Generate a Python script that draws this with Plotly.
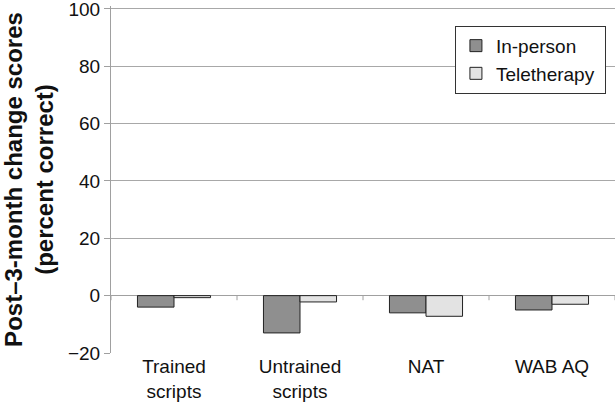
import plotly.graph_objects as go

categories = ["Trained<br>scripts", "Untrained<br>scripts", "NAT", "WAB AQ"]
in_person = [-4, -13, -6, -5]
teletherapy = [-0.7, -2.2, -7.2, -3]
y_ticks = [-20, 0, 20, 40, 60, 80, 100]

font = "Liberation Sans, Arial, sans-serif"
nb = "\u00a0"

fig = go.Figure()
fig.add_trace(go.Bar(x=categories, y=in_person, name="In-person" + nb,
                     marker=dict(color="#8f8f8f", line=dict(color="#222222", width=1))))
fig.add_trace(go.Bar(x=categories, y=teletherapy, name="Teletherapy" + nb,
                     marker=dict(color="#e3e3e3", line=dict(color="#222222", width=1))))

for i in range(len(categories) + 1):
    fig.add_shape(type="line", xref="x", yref="y", x0=i - 0.5, x1=i - 0.5, y0=0, y1=-1.6,
                  line=dict(color="#a0a0a0", width=1))

fig.update_layout(
    width=616, height=405,
    margin=dict(l=111, r=1, t=6, b=52),
    plot_bgcolor="white", paper_bgcolor="white",
    barmode="group", bargap=0.42, bargroupgap=0,
    font=dict(family=font, size=18, color="#111111"),
    showlegend=True,
    legend=dict(x=0.982, y=0.943, xanchor="right", yanchor="top",
                bgcolor="white", bordercolor="#333333", borderwidth=1,
                font=dict(size=19, family=font), itemwidth=30,
                tracegroupgap=2),
    xaxis=dict(showline=False, showgrid=False, ticks="", tickfont=dict(size=19),
               range=[-0.5, 3.5], automargin=False),
    yaxis=dict(range=[-20, 101], tickmode="array", tickvals=y_ticks,
               ticktext=[str(v).replace("-", "\u2212") for v in y_ticks],
               ticklabeloverflow="allow",
               showgrid=True, gridcolor="#a8a8a8",
               gridwidth=1, showline=True, linecolor="#a0a0a0", linewidth=1,
               ticks="outside", tickcolor="#a0a0a0", ticklen=6,
               tickfont=dict(size=19), zeroline=True, zerolinecolor="#a0a0a0",
               zerolinewidth=1, automargin=False,
               title=dict(text="<b>Post–3-month change scores<br>(percent correct)</b>",
                          font=dict(size=24), standoff=8)),
)

fig.write_html("out.html", config={"displayModeBar": False},
               post_script="document.body.style.margin='0';document.body.style.padding='0';")
